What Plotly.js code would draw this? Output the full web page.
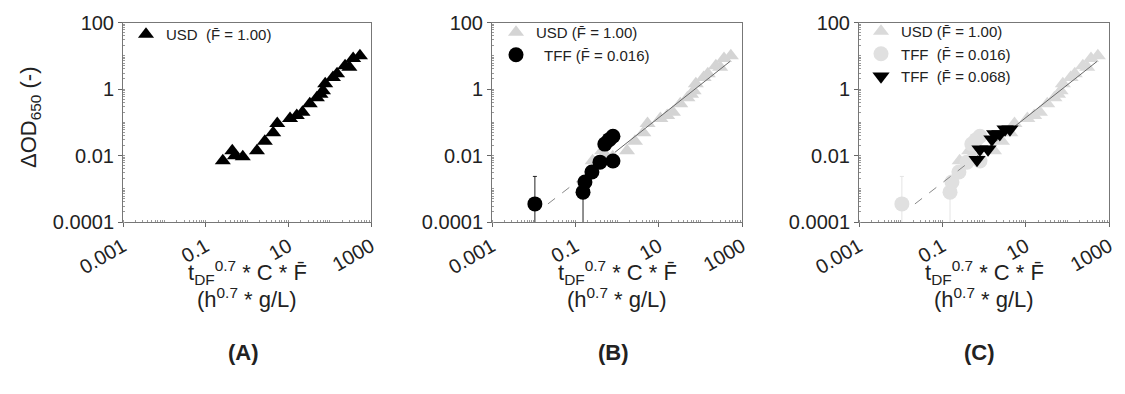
<!DOCTYPE html>
<html>
<head>
<meta charset="utf-8">
<script src="https://cdn.plot.ly/plotly-3.0.1.min.js"></script>
<style>html,body{margin:0;padding:0;background:#fff;}#chart{width:1125px;height:394px;}</style>
</head>
<body>
<div id="chart"></div>
<script>
// ---- data ----
const usdX = [0.26, 0.44, 0.51, 0.79, 1.74, 2.7, 4.3, 5.4, 11, 16, 22, 33, 49, 60, 69, 78, 120, 151, 236, 300, 370, 540];
const usdY = [0.0069, 0.0138, 0.0098, 0.0091, 0.0138, 0.027, 0.048, 0.091, 0.13, 0.16, 0.2, 0.36, 0.55, 0.7, 0.89, 1.45, 2.2, 2.9, 5.0, 4.5, 8.2, 10];

const tff016X = [0.0107, 0.153, 0.17, 0.25, 0.39, 0.80, 0.51, 0.65, 0.80];
const tff016Y = [0.00035, 0.00079, 0.0016, 0.0032, 0.0063, 0.0068, 0.022, 0.030, 0.038];
const tff016ErrPlus = [0.002, 0.0009, 0, 0, 0, 0, 0, 0, 0];
const tff016ErrMinus = [0.000349, 0.00078, 0, 0, 0, 0, 0, 0, 0];

const tff068X = [0.68, 0.80, 1.25, 1.55, 1.8, 2.4, 3.2, 4.2];
const tff068Y = [0.0075, 0.0155, 0.0155, 0.031, 0.044, 0.044, 0.062, 0.062];

const fitDashX = [0.022, 0.9];
const fitDashY = [0.00035, 0.0126];
const fitSolidX = [0.9, 520];
const fitSolidY = [0.0126, 6.8];

const xTickVals = [0.001, 0.1, 10, 1000];
const xTickText = ['0.001', '0.1', '10', '1000'];
const yTickVals = [0.0001, 0.01, 1, 100];
const yTickText = ['0.0001', '0.01', '1', '100'];

const legUSD = 'USD  (F\u0304 = 1.00)';
const legUSDb = 'USD (F\u0304 = 1.00)';
const legTFF016 = '  TFF (F\u0304 = 0.016)';
const legTFF016c = 'TFF  (F\u0304 = 0.016)';
const legTFF068 = 'TFF  (F\u0304 = 0.068)';

// ---- build ----
const FONT = 'Liberation Sans, Arial, sans-serif';
const W = 1125, H = 394;
const px = v => v / W;
const py = v => 1 - v / H;

function minorVals(lo, hi) {
  const out = [];
  for (let e = lo; e < hi; e++) {
    for (let m = 1; m < 10; m++) {
      out.push(m * Math.pow(10, e));
    }
  }
  return out;
}

function xAxis(d, anchor) {
  return {
    type: 'log', domain: d, anchor: anchor, range: [-3, 3],
    tickmode: 'array', tickvals: xTickVals, ticktext: xTickText, tickangle: -30,
    ticks: 'outside', ticklen: 4, tickcolor: '#666',
    tickfont: {family: FONT, size: 20, color: '#222'},
    showline: true, linecolor: '#777', linewidth: 1, mirror: true,
    showgrid: false, zeroline: false,
    minor: {tickmode: 'array', tickvals: minorVals(-3, 3), ticks: 'inside', ticklen: 2, tickcolor: '#999', showgrid: false}
  };
}
function yAxis(anchor) {
  return {
    type: 'log', domain: [py(222), py(22.5)], anchor: anchor, range: [-4, 2],
    tickmode: 'array', tickvals: yTickVals, ticktext: yTickText,
    ticks: 'outside', ticklen: 4, tickcolor: '#666',
    tickfont: {family: FONT, size: 20, color: '#222'},
    showline: true, linecolor: '#777', linewidth: 1, mirror: true,
    showgrid: false, zeroline: false,
    minor: {tickmode: 'array', tickvals: minorVals(-4, 2), ticks: 'inside', ticklen: 2, tickcolor: '#999', showgrid: false}
  };
}

const traces = [
  // Panel A
  {x: usdX, y: usdY, xaxis: 'x', yaxis: 'y', mode: 'markers', name: legUSD, legend: 'legend',
   marker: {symbol: 'triangle-up', size: 14, color: '#000'}},
  // Panel B
  {x: usdX, y: usdY, xaxis: 'x2', yaxis: 'y2', mode: 'markers', name: legUSDb, legend: 'legend2',
   marker: {symbol: 'triangle-up', size: 14, color: '#d4d4d4'}},
  {x: fitDashX, y: fitDashY, xaxis: 'x2', yaxis: 'y2', mode: 'lines', showlegend: false,
   line: {color: '#888', width: 1, dash: 'dash'}},
  {x: fitSolidX, y: fitSolidY, xaxis: 'x2', yaxis: 'y2', mode: 'lines', showlegend: false,
   line: {color: '#666', width: 1}},
  {x: tff016X, y: tff016Y, xaxis: 'x2', yaxis: 'y2', mode: 'markers', name: legTFF016, legend: 'legend2',
   error_y: {type: 'data', symmetric: false, array: tff016ErrPlus, arrayminus: tff016ErrMinus, color: '#222', thickness: 1, width: 2},
   marker: {symbol: 'circle', size: 15, color: '#000'}},
  // Panel C
  {x: usdX, y: usdY, xaxis: 'x3', yaxis: 'y3', mode: 'markers', name: legUSDb, legend: 'legend3',
   marker: {symbol: 'triangle-up', size: 14, color: '#dadada'}},
  {x: tff016X, y: tff016Y, xaxis: 'x3', yaxis: 'y3', mode: 'markers', name: legTFF016c, legend: 'legend3',
   error_y: {type: 'data', symmetric: false, array: tff016ErrPlus, arrayminus: tff016ErrMinus, color: '#e4e4e4', thickness: 1, width: 2},
   marker: {symbol: 'circle', size: 15, color: '#e0e0e0'}},
  {x: fitDashX, y: fitDashY, xaxis: 'x3', yaxis: 'y3', mode: 'lines', showlegend: false,
   line: {color: '#888', width: 1, dash: 'dash'}},
  {x: fitSolidX, y: fitSolidY, xaxis: 'x3', yaxis: 'y3', mode: 'lines', showlegend: false,
   line: {color: '#666', width: 1}},
  {x: tff068X, y: tff068Y, xaxis: 'x3', yaxis: 'y3', mode: 'markers', name: legTFF068, legend: 'legend3',
   marker: {symbol: 'triangle-down', size: 15, color: '#000'}}
];

const legFont = {family: FONT, size: 15, color: '#222'};
function legend(xl, yt) {
  return {x: px(xl), y: py(yt), xanchor: 'left', yanchor: 'top', bgcolor: 'rgba(0,0,0,0)',
          font: legFont, itemwidth: 30, tracegroupgap: 0, borderwidth: 0};
}

const titleFont = {family: FONT, size: 22, color: '#222'};
const annos = [];
const centers = [247, 617, 984];
const labels = ['(A)', '(B)', '(C)'];
centers.forEach((c, i) => {
  annos.push({xref: 'paper', yref: 'paper', x: px(c), y: py(272), xanchor: 'center', yanchor: 'middle', showarrow: false,
              text: 't<sub>DF</sub><sup>0.7</sup> * C * F\u0304', font: titleFont});
  annos.push({xref: 'paper', yref: 'paper', x: px(c), y: py(298), xanchor: 'center', yanchor: 'middle', showarrow: false,
              text: '(h<sup>0.7</sup> * g/L)', font: titleFont});
  annos.push({xref: 'paper', yref: 'paper', x: px(c - 4), y: py(352), xanchor: 'center', yanchor: 'middle', showarrow: false,
              text: '<b>' + labels[i] + '</b>', font: {family: FONT, size: 22, color: '#222'}});
});
annos.push({xref: 'paper', yref: 'paper', x: px(30), y: py(118), xanchor: 'center', yanchor: 'middle', showarrow: false,
            textangle: -90, text: '\u0394OD<sub>650</sub> (-)', font: titleFont});

const layout = {
  width: W, height: H,
  margin: {l: 0, r: 0, t: 0, b: 0},
  paper_bgcolor: '#fff', plot_bgcolor: '#fff',
  showlegend: true,
  xaxis: xAxis([px(123), px(371)], 'y'),
  yaxis: yAxis('x'),
  xaxis2: xAxis([px(492), px(742)], 'y2'),
  yaxis2: yAxis('x2'),
  xaxis3: xAxis([px(859), px(1109)], 'y3'),
  yaxis3: yAxis('x3'),
  legend: legend(126, 18),
  legend2: legend(496, 16),
  legend3: legend(861, 15),
  annotations: annos
};

Plotly.newPlot('chart', traces, layout, {staticPlot: true, displayModeBar: false});
</script>
</body>
</html>
